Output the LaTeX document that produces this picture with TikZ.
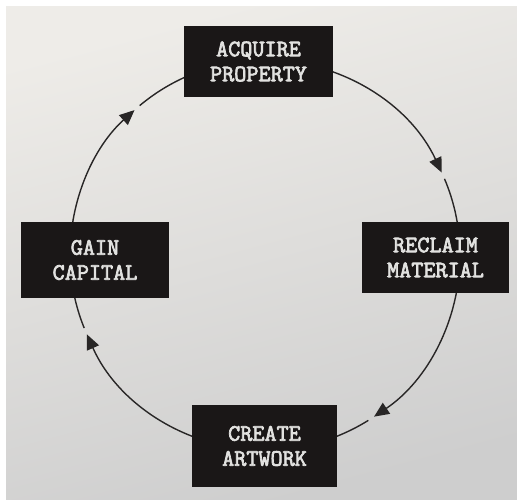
\documentclass[tikz,border=0pt]{standalone}
\usepackage{fontspec}
\setmonofont{Latin Modern Mono}[AutoFakeBold=3]
\usetikzlibrary{arrows.meta}
\definecolor{paperTop}{RGB}{238,236,232}
\definecolor{paperBot}{RGB}{206,206,206}
\definecolor{boxfill}{RGB}{26,23,23}
\definecolor{boxtext}{RGB}{226,226,224}
\definecolor{linecol}{RGB}{40,38,38}
\tikzset{
  stagebox/.style={fill=boxfill, draw=none, text=boxtext, align=center,
    font=\ttfamily\bfseries\fontsize{23.5}{25}\selectfont, inner sep=0pt},
  cyclearc/.style={draw=linecol, line width=1.4pt},
  cyclearrow/.style={cyclearc, -{Triangle[length=15pt,width=13pt]}}
}
\begin{document}
\begin{tikzpicture}[x=1pt,y=1pt]
\useasboundingbox (0,0) rectangle (517,501);
\fill[white] (0,0) rectangle (517,501);
\shade[top color=paperTop, bottom color=paperBot, shading angle=15] (6,2) rectangle (517,494);
% circle centre
\coordinate (c) at (265,246);
\def\R{195}
% arcs (clockwise)
\draw[cyclearrow] ([shift={(90:\R)}]c) arc[start angle=90, end angle=25, radius=\R];
\draw[cyclearc] ([shift={(23:\R)}]c) arc[start angle=23, end angle=0, radius=\R];
\draw[cyclearrow] ([shift={(0:\R)}]c) arc[start angle=0, end angle=-56, radius=\R];
\draw[cyclearc] ([shift={(-58:\R)}]c) arc[start angle=-58, end angle=-90, radius=\R];
\draw[cyclearrow] ([shift={(-90:\R)}]c) arc[start angle=-90, end angle=-156, radius=\R];
\draw[cyclearc] ([shift={(-158:\R)}]c) arc[start angle=-158, end angle=-180, radius=\R];
\draw[cyclearrow] ([shift={(180:\R)}]c) arc[start angle=180, end angle=132, radius=\R];
\draw[cyclearc] ([shift={(130:\R)}]c) arc[start angle=130, end angle=90, radius=\R];
% boxes
\node[stagebox, minimum width=149pt, minimum height=71pt] (acq) at (258.5,439.5) {ACQUIRE\\PROPERTY};
\node[stagebox, minimum width=147pt, minimum height=71pt] (rec) at (435.5,243.5) {RECLAIM\\MATERIAL};
\node[stagebox, minimum width=145pt, minimum height=82pt] (cre) at (264.5,55) {CREATE\\ARTWORK};
\node[stagebox, minimum width=148pt, minimum height=76pt] (gain) at (95,241) {GAIN\\CAPITAL};
\end{tikzpicture}
\end{document}
